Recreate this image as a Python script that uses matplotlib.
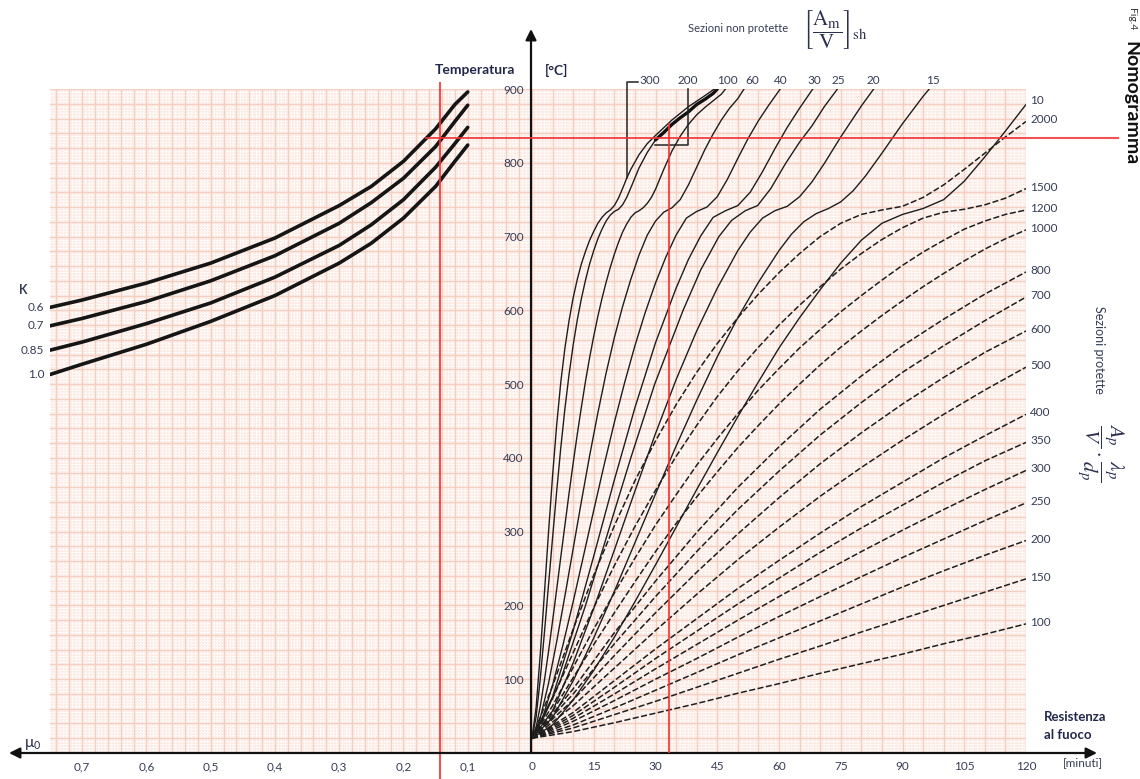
import numpy as np
import matplotlib.pyplot as plt

plt.rcParams['font.family'] = ['Lato', 'DejaVu Sans']
plt.rcParams['mathtext.fontset'] = 'stix'

# ---------------- data ----------------
# left panel: critical temperature [°C] vs mu0, one curve per kappa
mu0_pts = [0.75, 0.70, 0.60, 0.50, 0.40, 0.30, 0.25, 0.20, 0.15, 0.12, 0.10]
k_labels = ['0.6', '0.7', '0.85', '1.0']
theta_k06 = [604, 614, 637, 664, 698, 742, 768, 802, 846, 879, 896]
theta_k07 = [579, 589, 612, 640, 674, 718, 746, 779, 822, 856, 878]
theta_k085 = [546, 557, 582, 610, 645, 688, 716, 750, 794, 826, 848]
theta_k10 = [513, 527, 554, 585, 620, 664, 691, 725, 768, 802, 824]

# right panel, unprotected sections (time [min], temperature [°C])
unp_labels = ['300', '200', '100', '60', '40', '30', '25', '20', '15', '10']
u300 = [(0, 20), (1, 62), (2, 133), (3, 215), (4, 298), (5, 376), (6, 445), (7, 503), (8, 549),
        (9, 586), (10, 617), (11, 642), (12, 663), (13, 680), (14, 695), (15, 707), (16, 718),
        (17, 726), (18, 732), (19, 736), (20, 742), (21, 752), (22, 765), (23, 779), (24, 791),
        (26, 811), (28, 826), (30, 837), (34, 858), (38, 876), (42, 891), (44.3, 900)]
u200 = [(0, 20), (1, 49), (2, 100), (3, 162), (4, 227), (5, 292), (6, 355), (7, 414), (8, 467),
        (9, 513), (10, 553), (11, 587), (12, 616), (13, 641), (14, 663), (15, 681), (16, 697),
        (17, 710), (18, 721), (19, 729), (20, 734), (21, 737), (22, 743), (23, 753), (24, 766),
        (26, 793), (28, 814), (30, 831), (32, 841), (34, 852), (36, 861), (38, 869), (40, 879),
        (42, 886), (44, 894), (45, 900)]
u100 = [(0, 20), (1, 35), (2, 63), (3, 98), (4, 137), (5, 179), (6, 222), (7, 266), (8, 309),
        (9, 352), (10, 393), (11, 432), (12, 469), (13, 504), (14, 536), (15, 565), (16, 592),
        (17, 616), (18, 638), (19, 658), (20, 676), (21, 692), (22, 706), (23, 717), (24, 726),
        (25, 732), (26, 735), (27, 739), (28, 745), (29, 753), (30, 764), (32, 791), (34, 816),
        (36, 836), (38, 852), (40, 865), (42, 875), (44, 884), (46, 893), (47, 900)]
u60 = [(0, 20), (2, 47), (4, 94), (6, 151), (8, 213), (10, 277), (12, 341), (14, 403), (16, 461),
       (18, 515), (20, 563), (22, 605), (24, 642), (26, 675), (28, 702), (30, 721), (32, 733),
       (34, 739), (36, 750), (38, 770), (40, 794), (42, 818), (44, 839), (46, 858), (48, 874),
       (50, 887), (51.5, 900)]
u40 = [(0, 20), (2.5, 46), (5, 92), (7.5, 146), (10, 205), (12.5, 267), (15, 329), (17.5, 390),
       (20, 448), (22.5, 502), (25, 552), (27.5, 597), (30, 637), (32.5, 672), (35, 702),
       (37.5, 725), (40, 734), (42.5, 740), (45, 754), (47.5, 778), (50, 806), (52.5, 833),
       (55, 857), (57.5, 878), (60.3, 900)]
u30 = [(0, 20), (5, 76), (10, 166), (15, 267), (20, 370), (25, 468), (30, 556), (35, 630),
       (38, 669), (41, 701), (44, 726), (47, 735), (50, 742), (53, 760), (56, 788), (59, 819),
       (62, 848), (65, 874), (68.2, 900)]
u25 = [(0, 20), (3, 50), (7, 100), (13, 200), (18.5, 300), (24, 400), (29.8, 500), (36.7, 600),
       (41, 655), (45.4, 700), (48.5, 722), (51.8, 735), (54.8, 742), (58, 765), (61.7, 800),
       (65, 828), (68, 850), (71, 876), (74.2, 900)]
u20 = [(0, 20), (5, 57), (10, 122), (15, 196), (20, 275), (25, 355), (30, 433), (35, 506),
       (40, 572), (45, 630), (50, 681), (53, 706), (56, 725), (59, 735), (62, 741), (65, 754),
       (68, 774), (71, 799), (75, 835), (80, 877), (83, 900)]
u15 = [(0, 20), (5, 48), (10, 98), (15, 156), (20, 219), (25, 285), (30, 351), (35, 416),
       (40, 478), (45, 537), (50, 590), (55, 638), (60, 681), (63, 703), (66, 720), (69, 731),
       (72, 738), (75, 747), (78, 762), (81, 782), (85, 813), (90, 853), (95, 890), (96.5, 900)]
u10 = [(0, 20), (5, 38), (10, 72), (15, 112), (20, 157), (25, 205), (30, 255), (35, 306),
       (40, 357), (45, 407), (50, 456), (55, 503), (60, 549), (65, 590), (70, 628), (75, 664),
       (80, 695), (85, 718), (90, 730), (95, 738), (100, 750), (105, 775), (110, 808),
       (115, 843), (120, 879)]

# right panel, protected sections (dashed)
prot_labels = ['2000', '1500', '1200', '1000', '800', '700', '600', '500',
               '400', '350', '300', '250', '200', '150', '100']
prot_t10 = [0, 10, 20, 30, 40, 50, 60, 70, 80, 90, 100, 110, 120]
prot_t5 = [0, 5, 10, 15, 20, 25, 30, 35, 40, 45, 50, 55, 60, 65, 70, 75, 80, 85, 90, 95, 100,
           105, 110, 115, 120]
p2000 = [20, 91, 168, 241, 308, 369, 423, 472, 516, 555, 590, 622, 651, 677, 700, 718, 730, 736,
         741, 753, 770, 791, 813, 835, 856]
p1500 = [20, 74, 136, 197, 254, 307, 356, 402, 444, 483, 518, 550, 580, 607, 632, 656, 677, 696,
         712, 725, 733, 737, 743, 752, 765]
p1200 = [20, 64, 116, 168, 217, 264, 309, 350, 390, 426, 460, 492, 521, 549, 574, 598, 620, 641,
         661, 679, 695, 710, 721, 730, 736]
p1000 = [20, 57, 102, 147, 190, 232, 273, 311, 347, 381, 414, 444, 473, 500, 526, 550, 572, 593,
         613, 632, 650, 667, 683, 697, 709]
p800 = [20, 87, 163, 233, 299, 360, 415, 466, 511, 552, 588, 622, 652]
p700 = [20, 80, 148, 212, 273, 330, 382, 431, 475, 516, 552, 586, 618]
p600 = [20, 72, 132, 190, 245, 297, 346, 392, 434, 473, 509, 543, 572]
p500 = [20, 64, 115, 166, 215, 262, 306, 348, 387, 424, 459, 492, 523]
p400 = [20, 55, 98, 141, 182, 223, 261, 298, 334, 367, 400, 430, 459]
p350 = [20, 51, 89, 128, 165, 202, 237, 272, 305, 336, 367, 396, 421]
p300 = [20, 47, 80, 114, 147, 180, 212, 243, 273, 302, 330, 357, 383]
p250 = [20, 43, 71, 100, 128, 157, 185, 212, 239, 265, 290, 315, 339]
p200 = [20, 38, 61, 85, 109, 133, 156, 179, 202, 225, 247, 268, 288]
p150 = [20, 34, 52, 70, 89, 108, 127, 145, 164, 182, 200, 218, 236]
p100 = [20, 29, 41, 54, 67, 81, 94, 108, 121, 134, 148, 161, 175]

mu0_ticks = [0.7, 0.6, 0.5, 0.4, 0.3, 0.2, 0.1]
time_ticks = [0, 15, 30, 45, 60, 75, 90, 105, 120]
temp_ticks = [100, 200, 300, 400, 500, 600, 700, 800, 900]

# example reading drawn in red
theta_crit = 833
mu0_read = 0.143
t_read = 33.2

# ---------------- layout (pixels of the 1140x779 picture) ----------------
W, H = 1140, 779
fig = plt.figure(figsize=(W / 100, H / 100), dpi=100)

xl, x0, xr = 50, 532, 1026
ytop, ybot = 89, 753
axL = fig.add_axes([xl / W, 1 - ybot / H, (x0 - xl) / W, (ybot - ytop) / H])
axR = fig.add_axes([x0 / W, 1 - ybot / H, (xr - x0) / W, (ybot - ytop) / H])

pink = '#fcece6'
major = '#f4cfc0'
txtc = '#353c55'


def paper(ax, xmajor, xminor, xlim):
    ax.set_facecolor(pink)
    ax.set_xlim(*xlim)
    ax.set_ylim(0, 900)
    lo, hi = min(xlim), max(xlim)
    for v in np.arange(lo, hi + 1e-9, xminor):
        ax.axvline(v, color='white', lw=0.8, ls=(0, (1.4, 1.0)), zorder=0.5)
    for v in np.arange(0, 900.1, 4):
        ax.axhline(v, color='white', lw=0.8, ls=(0, (1.4, 1.0)), zorder=0.5)
    for v in np.arange(lo, hi + 1e-9, xmajor):
        ax.axvline(v, color=major, lw=0.9, zorder=0.6)
    for v in np.arange(0, 900.1, 20):
        ax.axhline(v, color=major, lw=0.9, zorder=0.6)
    for s in ax.spines.values():
        s.set_visible(False)
    ax.tick_params(length=0, labelsize=8.5, labelcolor=txtc)


paper(axL, 0.02, 0.005, (0.75, 0.0))
paper(axR, 5, 1, (0, 120))

# left panel curves
kcurves = [theta_k06, theta_k07, theta_k085, theta_k10]
for th in kcurves:
    axL.plot(mu0_pts, th, color='#151515', lw=2.6, solid_capstyle='round', zorder=3)
for lab, th in zip(k_labels, kcurves):
    axL.annotate(lab, xy=(0, th[0]), xycoords=('axes fraction', 'data'), xytext=(-4, 0),
                 textcoords='offset points', ha='right', va='center', fontsize=8.5, color=txtc)
axL.annotate('K', xy=(0, theta_k06[0] + 24), xycoords=('axes fraction', 'data'), xytext=(-16, 0),
             textcoords='offset points', ha='right', va='center', fontsize=9, color=txtc,
             fontweight='bold')

axL.set_xticks(mu0_ticks)
axL.set_xticklabels([('%.1f' % v).replace('.', ',') for v in mu0_ticks])
axL.set_yticks([])
axL.tick_params(axis='x', pad=6)

# unprotected curves (solid)
unp = [u300, u200, u100, u60, u40, u30, u25, u20, u15, u10]
for c in unp:
    t, T = zip(*c)
    axR.plot(t, T, color='#1e1e1e', lw=1.0, zorder=3)
# highlighted bit of the 200 curve beyond the reading point
t, T = zip(*[p for p in u200 if p[0] >= 30])
axR.plot(t, T, color='#111111', lw=2.4, solid_capstyle='round', zorder=3.5)

# protected curves (dashed)
prot = [p2000, p1500, p1200, p1000, p800, p700, p600, p500, p400, p350, p300, p250, p200, p150, p100]
for c in prot:
    tt = prot_t5 if len(c) == len(prot_t5) else prot_t10
    axR.plot(tt, c, color='#1e1e1e', lw=1.1, ls=(0, (4, 1.6)), zorder=3)

# labels at the end of the curves
top_label_t = [28.5, 37.8, 47.5, 53.5, 60.5, 68.5, 74.5, 83, 97.5]
for lab, tx in zip(unp_labels[:-1], top_label_t):
    axR.text(tx, 911, lab, ha='center', va='center', fontsize=8.5, color=txtc, clip_on=False)
axR.text(121, u10[-1][1] + 6, unp_labels[-1], ha='left', va='center', fontsize=8.5, color=txtc,
         clip_on=False)
for lab, c in zip(prot_labels, prot):
    axR.text(121, c[-1] + 2, lab, ha='left', va='center', fontsize=8.5, color=txtc, clip_on=False)

# brackets for 300 and 200
axR.plot([25.8, 23.0, 23.0], [909, 909, 779], color='#222222', lw=1.1, clip_on=False, zorder=4)
axR.plot([37.8, 37.8, 29.8], [900, 824, 824], color='#222222', lw=1.1, clip_on=False, zorder=4)

axR.set_xticks(time_ticks)
axR.set_xticklabels([str(v) for v in time_ticks])
axR.set_yticks(temp_ticks)
axR.set_yticklabels([str(v) for v in temp_ticks])
axR.tick_params(axis='y', pad=6)
axR.tick_params(axis='x', pad=6)

# red reading lines
red = '#f03434'
axR.plot([-25.7, 142.3], [theta_crit, theta_crit], color=red, lw=1.5, alpha=0.85, clip_on=False, zorder=5)
axR.plot([t_read, t_read], [0, 852], color=red, lw=1.5, alpha=0.85, zorder=5)
axL.plot([mu0_read, mu0_read], [-35, 908], color=red, lw=1.5, alpha=0.85, clip_on=False, zorder=5)

# axes arrows (figure pixels, origin bottom-left)
arr = dict(arrowstyle='-|>', lw=1.6, color='#111111', mutation_scale=16, shrinkA=0, shrinkB=0)
fig_ax_y = H - ybot
axR.annotate('', xy=(531, H - 29), xytext=(531, fig_ax_y), xycoords='figure pixels',
             textcoords='figure pixels', arrowprops=arr)
axR.annotate('', xy=(1097, fig_ax_y), xytext=(531, fig_ax_y), xycoords='figure pixels',
             textcoords='figure pixels', arrowprops=arr)
axR.annotate('', xy=(9, fig_ax_y), xytext=(531, fig_ax_y), xycoords='figure pixels',
             textcoords='figure pixels', arrowprops=arr)


# texts
def ftext(x, y, s, **kw):
    fig.text(x / W, 1 - y / H, s, **kw)


ftext(515, 70, 'Temperatura', ha='right', va='center', fontsize=10, fontweight='bold', color='#22284a')
ftext(545, 70, '[°C]', ha='left', va='center', fontsize=10, fontweight='bold', color='#22284a')
ftext(738, 28, 'Sezioni non protette', ha='center', va='center', fontsize=8, color=txtc)
ftext(835, 30, r'$\left[\dfrac{\mathrm{A_m}}{\mathrm{V}}\right]_{\mathrm{sh}}$', ha='center', va='center',
      fontsize=15, color='#2a3050')
ftext(1044, 717, 'Resistenza', ha='left', va='center', fontsize=9.5, fontweight='bold', color='#22284a')
ftext(1044, 735, 'al fuoco', ha='left', va='center', fontsize=9.5, fontweight='bold', color='#22284a')
ftext(1063, 763, '[minuti]', ha='left', va='center', fontsize=8.5, color=txtc)
ftext(33, 744, r'$\mathregular{\mu_0}$', ha='center', va='center', fontsize=11, color='#22284a')
ftext(1131, 19, 'Fig.4', rotation=-90, ha='center', va='center', fontsize=7.5, color='#333333')
ftext(1131, 103, 'Nomogramma', rotation=-90, ha='center', va='center', fontsize=14, fontweight='bold',
      color='#111111')
ftext(1099, 350, 'Sezioni protette', rotation=-90, ha='center', va='center', fontsize=9, color=txtc)
ftext(1100, 452, r'$\dfrac{A_p}{V}\,.\,\dfrac{\lambda_p}{d_p}$', rotation=-90, ha='center', va='center',
      fontsize=15, color='#2a3050')

fig.savefig('out.png', dpi=100)
